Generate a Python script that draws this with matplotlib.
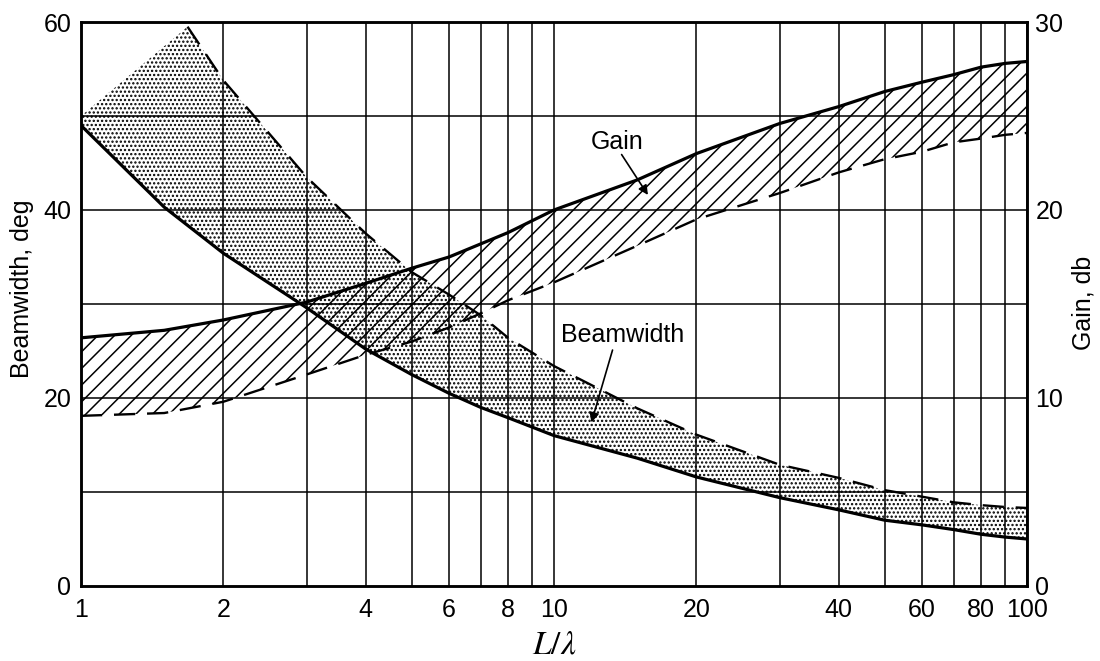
import matplotlib
matplotlib.use('Agg')
import matplotlib.pyplot as plt
import numpy as np

plt.rcParams['font.family'] = ['Liberation Sans', 'DejaVu Sans']
plt.rcParams['mathtext.fontset'] = 'stix'
plt.rcParams['hatch.color'] = 'black'
plt.rcParams['hatch.linewidth'] = 1.1

# beamwidth, deg (left axis)
bw_lo_x = [1, 1.5, 2, 3, 4, 5, 6, 7, 8, 10, 15, 20, 30, 40, 50, 60, 70, 80, 90, 100]
bw_lo_y = [49.0, 40.3, 35.4, 29.6, 25.2, 22.5, 20.5, 19.0, 17.9, 16.0, 13.6, 11.6,
           9.4, 8.1, 7.0, 6.5, 6.0, 5.5, 5.2, 5.0]
bw_hi_x = [1.68, 2, 3, 4, 5, 6, 7, 8, 10, 15, 20, 30, 40, 50, 60, 70, 80, 90, 100]
bw_hi_y = [59.5, 53.8, 43.5, 37.5, 33.4, 31.0, 28.8, 26.4, 23.4, 18.9, 16.1,
           12.9, 11.5, 10.2, 9.5, 8.9, 8.6, 8.4, 8.3]
bw_fill_start = 50.0   # stipple edge at L/lambda = 1

# gain, db (right axis)
g_hi_x = [1, 1.5, 2, 3, 4, 5, 6, 8, 10, 15, 20, 30, 40, 50, 60, 70, 80, 90, 100]
g_hi_y = [13.2, 13.6, 14.15, 15.1, 16.1, 16.9, 17.5, 18.8, 20.0, 21.6, 23.0,
          24.6, 25.5, 26.3, 26.8, 27.2, 27.6, 27.8, 27.9]
g_lo_x = [1, 1.5, 2, 3, 4, 5, 6, 7, 8, 10, 15, 20, 30, 40, 50, 60, 70, 80, 90, 100]
g_lo_y = [9.05, 9.2, 9.8, 11.25, 12.3, 13.0, 13.75, 14.5, 15.2, 16.15, 18.1, 19.5,
          20.9, 22.0, 22.7, 23.1, 23.6, 23.8, 24.0, 24.1]

xticks = [1, 2, 4, 6, 8, 10, 20, 40, 60, 80, 100]
xgrid = list(range(1, 10)) + list(range(10, 101, 10))

fig = plt.figure(figsize=(11, 6.61), dpi=100)
ax = fig.add_axes([0.0736, 0.1135, 0.86, 0.8532])
ax2 = ax.twinx()

ax.set_xscale('log')
ax.set_xlim(1, 100)
ax.set_ylim(0, 60)
ax2.set_ylim(0, 30)

for g in xgrid:
    ax.axvline(g, color='black', lw=1.1, zorder=1)
for g in range(10, 60, 10):
    ax.axhline(g, color='black', lw=1.1, zorder=1)

# beamwidth band
px = list(bw_lo_x) + list(bw_hi_x[::-1]) + [1]
py = list(bw_lo_y) + list(bw_hi_y[::-1]) + [bw_fill_start]
ax.fill(px, py, facecolor='none', edgecolor='black', hatch='....', lw=0, zorder=2)
ax.plot(bw_lo_x, bw_lo_y, color='black', lw=2.3, zorder=4)
ax.plot(bw_hi_x, bw_hi_y, color='black', lw=1.7, dashes=(9, 5), zorder=4)

# gain band
gx = list(g_hi_x) + list(g_lo_x[::-1])
gy = list(g_hi_y) + list(g_lo_y[::-1])
ax2.fill(gx, gy, facecolor='none', edgecolor='black', hatch='//', lw=0, zorder=2)
ax2.plot(g_hi_x, g_hi_y, color='black', lw=2.3, zorder=4)
ax2.plot(g_lo_x, g_lo_y, color='black', lw=1.7, dashes=(9, 5), zorder=4)

ax.set_xticks(xticks)
ax.set_xticklabels([str(t) for t in xticks])
ax.xaxis.set_minor_locator(matplotlib.ticker.NullLocator())
ax.set_yticks([0, 20, 40, 60])
ax2.set_yticks([0, 10, 20, 30])
ax.tick_params(axis='both', length=0, labelsize=18)
ax.tick_params(axis='x', pad=9)
ax.tick_params(axis='y', pad=7)
ax2.tick_params(axis='y', length=0, labelsize=18, pad=6)

for a in (ax, ax2):
    for s in a.spines.values():
        s.set_linewidth(1.8)

ax.set_ylabel('Beamwidth, deg', fontsize=18)
ax.yaxis.set_label_coords(-0.050, 0.527)
ax2.set_ylabel('Gain, db', fontsize=18)
ax2.yaxis.set_label_coords(1.047, 0.502)
ax.set_xlabel(r'$L/\lambda$', fontsize=24)
ax.xaxis.set_label_coords(0.5, -0.078)

# annotations
ax.text(13.6, 47.2, 'Gain', fontsize=18, ha='center', va='center', zorder=6)
ax.annotate('', xy=(15.8, 41.6), xytext=(13.9, 45.9),
            arrowprops=dict(arrowstyle='-|>', color='black', lw=1.2,
                            mutation_scale=14, shrinkA=0, shrinkB=0), zorder=6)
ax.text(14.0, 26.7, 'Beamwidth', fontsize=18, ha='center', va='center', zorder=6)
ax.annotate('', xy=(12.0, 17.4), xytext=(13.3, 25.1),
            arrowprops=dict(arrowstyle='-|>', color='black', lw=1.2,
                            mutation_scale=14, shrinkA=0, shrinkB=0), zorder=6)

fig.savefig('out.png', dpi=100)
